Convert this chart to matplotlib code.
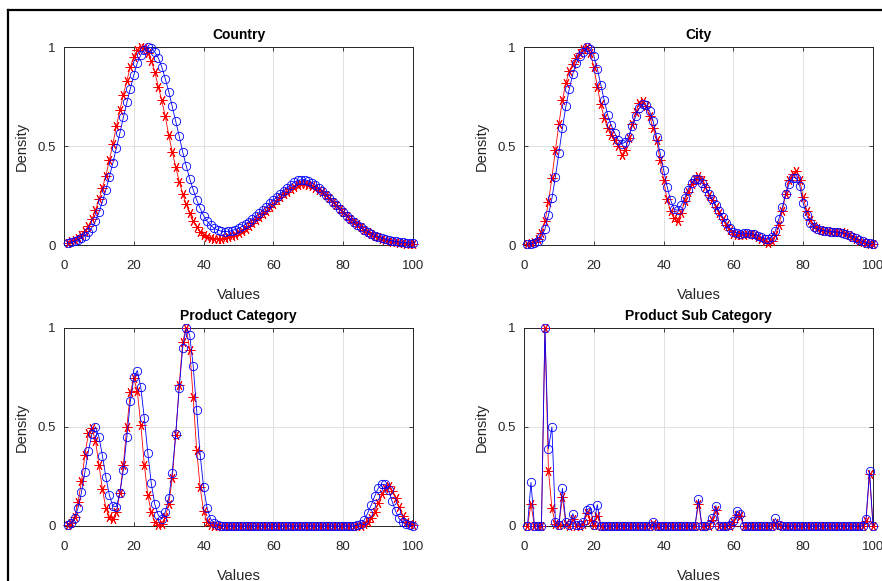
import numpy as np
import matplotlib
matplotlib.use("Agg")
import matplotlib.pyplot as plt
from matplotlib.lines import Line2D

plt.rcParams["font.family"] = ["Liberation Sans", "DejaVu Sans"]

x = np.arange(1, 101)

titles = ["Country", "City", "Product Category", "Product Sub Category"]

country_red = [
    0.012, 0.018, 0.026, 0.037, 0.052, 0.072, 0.098, 0.13, 0.175, 0.23,
    0.29, 0.35, 0.43, 0.51, 0.6, 0.68, 0.76, 0.83, 0.9, 0.95,
    0.985, 1.0, 0.995, 0.97, 0.93, 0.875, 0.8, 0.73, 0.65, 0.555,
    0.47, 0.395, 0.32, 0.26, 0.205, 0.16, 0.123, 0.092, 0.068, 0.052,
    0.042, 0.036, 0.032, 0.03, 0.031, 0.034, 0.038, 0.044, 0.051, 0.06,
    0.07, 0.082, 0.095, 0.109, 0.124, 0.14, 0.157, 0.174, 0.191, 0.208,
    0.225, 0.241, 0.256, 0.27, 0.283, 0.294, 0.302, 0.307, 0.308, 0.305,
    0.299, 0.29, 0.279, 0.266, 0.251, 0.235, 0.218, 0.2, 0.183, 0.166,
    0.149, 0.133, 0.118, 0.104, 0.09, 0.078, 0.066, 0.056, 0.047, 0.039,
    0.032, 0.026, 0.021, 0.017, 0.013, 0.01, 0.008, 0.006, 0.005, 0.004,
]
country_blue = [
    0.01, 0.013, 0.018, 0.025, 0.035, 0.048, 0.065, 0.088, 0.12, 0.165,
    0.22, 0.28, 0.345, 0.415, 0.49, 0.565, 0.645, 0.72, 0.79, 0.86,
    0.92, 0.96, 0.985, 1.0, 0.995, 0.975, 0.945, 0.9, 0.84, 0.775,
    0.7, 0.625, 0.55, 0.47, 0.4, 0.335, 0.28, 0.228, 0.185, 0.148,
    0.12, 0.1, 0.085, 0.075, 0.07, 0.068, 0.069, 0.072, 0.078, 0.085,
    0.094, 0.105, 0.117, 0.13, 0.145, 0.16, 0.176, 0.193, 0.21, 0.227,
    0.243, 0.26, 0.275, 0.29, 0.305, 0.318, 0.327, 0.33, 0.33, 0.325,
    0.315, 0.302, 0.288, 0.272, 0.255, 0.237, 0.219, 0.2, 0.182, 0.165,
    0.148, 0.132, 0.117, 0.103, 0.09, 0.078, 0.067, 0.057, 0.048, 0.041,
    0.035, 0.03, 0.025, 0.021, 0.018, 0.015, 0.013, 0.012, 0.011, 0.01,
]

city_red = [
    0.005, 0.008, 0.015, 0.03, 0.06, 0.12, 0.215, 0.34, 0.48, 0.61,
    0.73, 0.82, 0.88, 0.915, 0.945, 0.97, 0.99, 1.0, 0.97, 0.9,
    0.8, 0.71, 0.64, 0.59, 0.555, 0.53, 0.5, 0.455, 0.48, 0.54,
    0.61, 0.67, 0.715, 0.725, 0.7, 0.65, 0.59, 0.53, 0.43, 0.33,
    0.23, 0.17, 0.135, 0.12, 0.16, 0.22, 0.27, 0.31, 0.335, 0.35,
    0.33, 0.295, 0.255, 0.225, 0.19, 0.16, 0.13, 0.1, 0.075, 0.058,
    0.05, 0.05, 0.052, 0.055, 0.055, 0.05, 0.042, 0.03, 0.018, 0.01,
    0.02, 0.05, 0.1, 0.17, 0.26, 0.33, 0.36, 0.375, 0.33, 0.24,
    0.17, 0.125, 0.098, 0.085, 0.077, 0.072, 0.07, 0.068, 0.067, 0.067,
    0.065, 0.06, 0.05, 0.04, 0.03, 0.022, 0.015, 0.01, 0.006, 0.004,
]
city_blue = [
    0.005, 0.006, 0.01, 0.02, 0.04, 0.08, 0.15, 0.235, 0.345, 0.465,
    0.59, 0.7, 0.79, 0.865, 0.92, 0.955, 0.975, 1.0, 0.99, 0.955,
    0.89, 0.81, 0.73, 0.655, 0.605, 0.565, 0.53, 0.51, 0.52, 0.545,
    0.6, 0.65, 0.69, 0.71, 0.705, 0.675, 0.625, 0.545, 0.465, 0.38,
    0.295, 0.228, 0.18, 0.175, 0.2, 0.235, 0.28, 0.315, 0.335, 0.335,
    0.315, 0.29, 0.26, 0.23, 0.2, 0.17, 0.14, 0.11, 0.085, 0.068,
    0.06, 0.058, 0.06, 0.06, 0.058, 0.055, 0.048, 0.04, 0.032, 0.03,
    0.04, 0.07, 0.13, 0.19, 0.26, 0.31, 0.34, 0.34, 0.3, 0.21,
    0.15, 0.11, 0.09, 0.08, 0.075, 0.072, 0.07, 0.068, 0.066, 0.065,
    0.062, 0.058, 0.05, 0.042, 0.033, 0.025, 0.018, 0.012, 0.008, 0.006,
]

category_red = [
    0.005, 0.015, 0.045, 0.12, 0.225, 0.36, 0.47, 0.495, 0.43, 0.31,
    0.185, 0.09, 0.045, 0.035, 0.07, 0.165, 0.31, 0.5, 0.675, 0.745,
    0.68, 0.51, 0.31, 0.155, 0.07, 0.02, 0.005, 0.012, 0.045, 0.11,
    0.24, 0.46, 0.71, 0.93, 1.0, 0.89, 0.65, 0.385, 0.195, 0.075,
    0.022, 0.006, 0.002, 0, 0, 0, 0, 0, 0, 0,
    0, 0, 0, 0, 0, 0, 0, 0, 0, 0,
    0, 0, 0, 0, 0, 0, 0, 0, 0, 0,
    0, 0, 0, 0, 0, 0, 0, 0, 0, 0,
    0, 0, 0, 0, 0.002, 0.008, 0.02, 0.04, 0.072, 0.115,
    0.16, 0.19, 0.2, 0.175, 0.14, 0.095, 0.05, 0.022, 0.008, 0.003,
]
category_blue = [
    0.005, 0.015, 0.04, 0.09, 0.17, 0.275, 0.38, 0.465, 0.5, 0.45,
    0.355, 0.245, 0.155, 0.1, 0.098, 0.165, 0.285, 0.45, 0.63, 0.75,
    0.785, 0.7, 0.545, 0.37, 0.215, 0.11, 0.055, 0.035, 0.07, 0.14,
    0.27, 0.465, 0.695, 0.9, 1.0, 0.965, 0.81, 0.585, 0.36, 0.195,
    0.09, 0.035, 0.015, 0.005, 0.002, 0, 0, 0, 0, 0,
    0, 0, 0, 0, 0, 0, 0, 0, 0, 0,
    0, 0, 0, 0, 0, 0, 0, 0, 0, 0,
    0, 0, 0, 0, 0, 0, 0, 0, 0, 0,
    0, 0, 0, 0.004, 0.012, 0.03, 0.065, 0.105, 0.15, 0.19,
    0.21, 0.21, 0.18, 0.125, 0.075, 0.038, 0.018, 0.008, 0.004, 0.002,
]

subcat_red = [
    0, 0.11, 0, 0, 0, 1.0, 0.28, 0.09, 0.01, 0.003,
    0.145, 0.01, 0.002, 0.035, 0.002, 0.002, 0.01, 0.068, 0.03, 0.003,
    0.05, 0, 0, 0, 0, 0, 0, 0, 0, 0,
    0, 0, 0, 0, 0, 0, 0.01, 0, 0, 0,
    0, 0, 0, 0, 0, 0, 0, 0, 0, 0.112,
    0, 0, 0.002, 0.03, 0.08, 0, 0, 0, 0.002, 0.02,
    0.055, 0.048, 0, 0, 0, 0, 0, 0, 0, 0,
    0, 0.015, 0.003, 0, 0, 0, 0, 0, 0, 0,
    0, 0, 0, 0, 0, 0, 0, 0, 0, 0,
    0, 0, 0, 0, 0, 0, 0, 0.027, 0.26, 0,
]
subcat_blue = [
    0, 0.22, 0, 0, 0, 1.0, 0.39, 0.5, 0.022, 0.005,
    0.19, 0.02, 0.005, 0.062, 0.005, 0.005, 0.02, 0.082, 0.092, 0.005,
    0.108, 0, 0, 0, 0, 0, 0, 0, 0, 0,
    0, 0, 0, 0, 0, 0, 0.022, 0, 0, 0,
    0, 0, 0, 0, 0, 0, 0, 0, 0, 0.135,
    0, 0, 0.005, 0.04, 0.103, 0, 0, 0, 0.005, 0.027,
    0.076, 0.058, 0, 0, 0, 0, 0, 0, 0, 0,
    0, 0.038, 0.005, 0, 0, 0, 0, 0, 0, 0,
    0, 0, 0, 0, 0, 0, 0, 0, 0, 0,
    0, 0, 0, 0, 0, 0, 0, 0.035, 0.28, 0,
]

red_series = [country_red, city_red, category_red, subcat_red]
blue_series = [country_blue, city_blue, category_blue, subcat_blue]

fig = plt.figure(figsize=(8.82, 5.81), dpi=100)

# axes boxes in figure fractions (left, bottom, width, height)
positions = [
    (0.0726, 0.5783, 0.3957, 0.3408),
    (0.5941, 0.5783, 0.3957, 0.3408),
    (0.0726, 0.0947, 0.3957, 0.3408),
    (0.5941, 0.0947, 0.3957, 0.3408),
]

edge = "#262626"
asterisk = (6, 2, 90)
for pos, title, r, b in zip(positions, titles, red_series, blue_series):
    ax = fig.add_axes(pos)
    ax.plot(x, r, color="red", marker=asterisk, markersize=7, linewidth=0.6,
            markeredgewidth=0.7, clip_on=False, zorder=3)
    ax.plot(x, b, color="blue", marker="o", markersize=6, linewidth=0.6,
            markerfacecolor="none", markeredgewidth=0.6, clip_on=False, zorder=4)
    ax.set_xlim(0, 100)
    ax.set_ylim(0, 1)
    ax.set_xticks([0, 20, 40, 60, 80, 100])
    ax.set_yticks([0, 0.5, 1])
    ax.set_yticklabels(["0", "0.5", "1"])
    ax.grid(True, color="#dcdcdc", linewidth=0.6)
    ax.set_axisbelow(True)
    ax.tick_params(direction="in", length=3, width=0.6, colors=edge,
                   labelsize=9.5, top=True, right=True)
    ax.tick_params(axis="x", pad=11)
    ax.tick_params(axis="y", pad=6)
    for s in ax.spines.values():
        s.set_color(edge)
        s.set_linewidth(0.7)
    ax.set_title(title, fontsize=10, fontweight="bold", pad=6)
    ax.set_xlabel("Values", fontsize=10.5, color=edge, labelpad=11)
    ax.set_ylabel("Density", fontsize=10.5, color=edge, labelpad=6)

# window frame along the top and left edges
fig.add_artist(Line2D([8 / 882, 1], [1 - 10 / 581, 1 - 10 / 581],
                      color="black", linewidth=1.6, transform=fig.transFigure))
fig.add_artist(Line2D([8 / 882, 8 / 882], [0, 1 - 10 / 581],
                      color="black", linewidth=1.6, transform=fig.transFigure))

fig.savefig("out.png", dpi=100)
